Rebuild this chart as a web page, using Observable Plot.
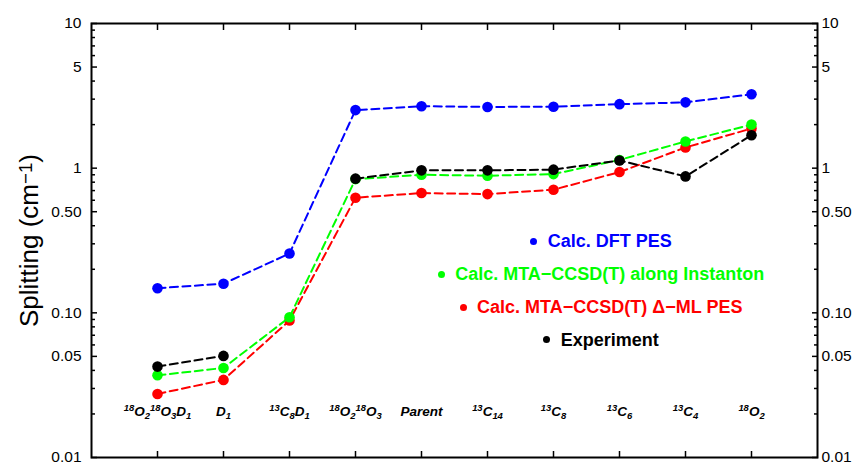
<!DOCTYPE html>
<html><head><meta charset="utf-8">
<script src="https://cdn.jsdelivr.net/npm/d3@7"></script>
<script src="https://cdn.jsdelivr.net/npm/@observablehq/plot@0.6"></script>
<style>
body{margin:0;background:#fff;font-family:"Liberation Sans",Arial,sans-serif;}
#wrap{position:relative;width:856px;height:465px;overflow:hidden}
#legend{position:absolute;left:351px;width:500px;top:225.3px;text-align:center;font-weight:bold;font-size:18px;}
#legend div{height:32.8px;line-height:32.8px;white-space:nowrap}
.dot{display:inline-block;width:7px;height:7px;border-radius:50%;margin-right:10.5px;vertical-align:middle;position:relative;top:-1px}
</style></head><body><div id="wrap"><div id="legend"></div></div>
<script>
// Categories (markup: ^{..} superscript, _{..} subscript)
const categories = ["^{18}O_{2}^{18}O_{3}D_{1}", "D_{1}", "^{13}C_{8}D_{1}", "^{18}O_{2}^{18}O_{3}", "Parent",
  "^{13}C_{14}", "^{13}C_{8}", "^{13}C_{6}", "^{13}C_{4}", "^{18}O_{2}"];
const dftPES      = [0.148, 0.159, 0.257, 2.52, 2.68, 2.65, 2.66, 2.77, 2.85, 3.24];
const mtaInstanton= [0.037, 0.0416, 0.0933, 0.84, 0.90, 0.887, 0.91, 1.14, 1.53, 2.00];
const mtaDeltaML  = [0.0275, 0.0344, 0.0885, 0.625, 0.673, 0.662, 0.71, 0.94, 1.39, 1.88];
const experiment  = [0.0425, 0.0504, null, 0.846, 0.966, 0.966, 0.977, 1.13, 0.877, 1.69];
const seriesNames = ["Calc. DFT PES", "Calc. MTA\u2212CCSD(T) along Instanton", "Calc. MTA\u2212CCSD(T) \u0394\u2212ML PES", "Experiment"];
const seriesColors = ["#0000ff", "#00ff00", "#ff0000", "#000000"];
const majorTicks = [0.01, 0.05, 0.1, 0.5, 1, 5, 10];
const majorTickLabels = ["0.01", "0.05", "0.10", "0.50", "1", "5", "10"];
const minorTicks = [0.02,0.03,0.04,0.06,0.07,0.08,0.09,0.2,0.3,0.4,0.6,0.7,0.8,0.9,2,3,4,6,7,8,9];
const yTitle = "Splitting (cm^{\u22121})";

const rows = categories.map((c, i) => ({i, dft: dftPES[i], inst: mtaInstanton[i], ml: mtaDeltaML[i], exp: experiment[i]}));
const idx = categories.map((c, i) => i);
const tickRows = majorTicks.map((v, k) => ({v, label: majorTickLabels[k]}));

function series(key, color) {
  const d = rows.filter(r => r[key] != null);
  return [
    Plot.line(rows, {x: "i", y: key, stroke: color, strokeWidth: 2, strokeDasharray: "8,4.5"}),
    Plot.dot(d, {x: "i", y: key, fill: color, r: 5.3})
  ];
}
const noText = () => "";

const chart = Plot.plot({
  width: 856, height: 465,
  marginLeft: 91, marginRight: 39, marginTop: 23, marginBottom: 8,
  x: {type: "linear", domain: [-1, 10], axis: null},
  y: {type: "log", domain: [0.01, 10], axis: null},
  style: {fontFamily: "'Liberation Sans', Arial, sans-serif", background: "white", color: "black"},
  marks: [
    Plot.axisY({anchor: "left", ticks: minorTicks, tickSize: -4, tickFormat: noText, strokeWidth: 1.5, label: null}),
    Plot.axisY({anchor: "right", ticks: minorTicks, tickSize: -4, tickFormat: noText, strokeWidth: 1.5, label: null}),
    Plot.axisY({anchor: "left", ticks: majorTicks, tickSize: -6, tickFormat: noText, strokeWidth: 1.5, label: null}),
    Plot.axisY({anchor: "right", ticks: majorTicks, tickSize: -6, tickFormat: noText, strokeWidth: 1.5, label: null}),
    Plot.text(tickRows, {y: "v", text: "label", frameAnchor: "left", textAnchor: "end", dx: -10, fontSize: 15.5}),
    Plot.text(tickRows, {y: "v", text: "label", frameAnchor: "right", textAnchor: "start", dx: 4, fontSize: 15.5}),
    Plot.axisX({anchor: "bottom", ticks: idx, tickSize: -6, tickFormat: noText, strokeWidth: 1.5, label: null}),
    Plot.axisX({anchor: "top", ticks: idx, tickSize: -6, tickFormat: noText, strokeWidth: 1.5, label: null}),
    Plot.frame({stroke: "black", strokeWidth: 2}),
    ...series("dft", seriesColors[0]),
    ...series("ml", seriesColors[2]),
    ...series("inst", seriesColors[1]),
    ...series("exp", seriesColors[3]),
    Plot.text(categories, {x: (d, i) => i, frameAnchor: "bottom", dy: -42, fontSize: 13.5, fontWeight: "bold", fontStyle: "italic"}),
    Plot.text([yTitle], {frameAnchor: "left", textAnchor: "middle", rotate: -90, dx: -54, lineAnchor: "bottom", fontSize: 26})
  ]
});
document.getElementById("wrap").prepend(chart);

// rich text: superscripts / subscripts as tspans
const NS = "http://www.w3.org/2000/svg";
chart.querySelectorAll("text").forEach(t => {
  const s = t.textContent;
  if (!/[\^_]\{/.test(s)) return;
  const base = parseFloat(getComputedStyle(t).fontSize) || 12;
  const big = base > 20;
  const supUp = big ? 0.22 : 0.34, subDown = 0.28, scale = big ? 0.72 : 0.7;
  t.textContent = "";
  const re = /\^\{([^}]*)\}|_\{([^}]*)\}|([^\^_]+)/g;
  let m, cur = 0;
  while ((m = re.exec(s))) {
    let txt, off, size;
    if (m[1] != null) { txt = m[1]; off = -supUp * base; size = scale * base; }
    else if (m[2] != null) { txt = m[2]; off = subDown * base; size = scale * base; }
    else { txt = m[3]; off = 0; size = base; }
    const ts = document.createElementNS(NS, "tspan");
    ts.setAttribute("font-size", size);
    if (off !== cur) ts.setAttribute("dy", off - cur);
    cur = off;
    ts.textContent = txt;
    t.appendChild(ts);
  }
});

// legend
const lg = document.getElementById("legend");
seriesNames.forEach((n, k) => {
  const row = document.createElement("div");
  row.style.color = seriesColors[k];
  const dot = document.createElement("span");
  dot.className = "dot";
  dot.style.background = seriesColors[k];
  row.appendChild(dot);
  row.appendChild(document.createTextNode(n));
  lg.appendChild(row);
});
</script></body></html>
